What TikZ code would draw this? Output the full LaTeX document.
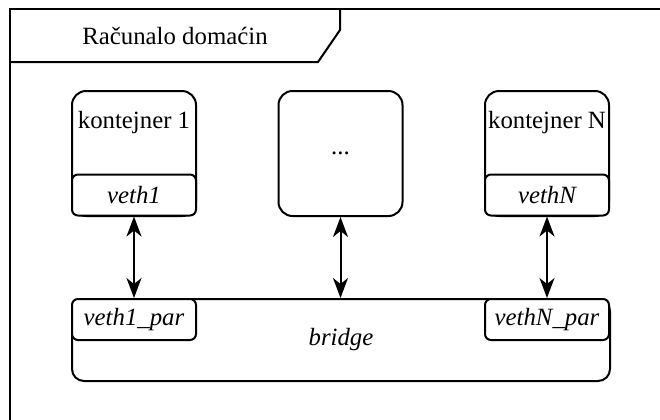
\documentclass[tikz,border=0pt]{standalone}
\usepackage{fontspec}
\setmainfont{Liberation Serif}
\usetikzlibrary{arrows.meta}

\tikzset{
	box/.style={draw, line width=1pt, rounded corners=7pt, fill=white, inner sep=0pt, minimum width=62pt, minimum height=62.5pt},
	port/.style={draw, line width=1pt, rounded corners=3pt, fill=white, inner sep=0pt, minimum width=62pt, minimum height=20.5pt, font=\itshape},
	bridgebox/.style={draw, line width=1pt, rounded corners=6pt, fill=white, inner sep=0pt, minimum width=269pt, minimum height=41pt, font=\itshape},
	link/.style={line width=1pt, {Stealth[length=10pt,width=7.5pt,inset=3pt]}-{Stealth[length=10pt,width=7.5pt,inset=3pt]}}
}

\begin{document}
\fontsize{12.4}{14}\selectfont
\begin{tikzpicture}[x=0.5pt, y=-0.5pt]
			%%%%% START %%%%%
			\useasboundingbox (0, 0) rectangle (660, 419);
			
			% host frame
			\draw[line width=1pt] (10, 425) -- (10, 8.5) -- (665, 8.5);
			\draw[line width=1pt] (10, 62) -- (318, 62) -- (340, 30) -- (340, 8.5);
			\node (host) at (175, 36) {Računalo domaćin};
			
			% containers
			\node[box] (k1) at (134, 153.5) {};
			\node (k1name) at (134, 123) {kontejner 1};
			\node[port] (v1) at (134, 195) {veth1};
			
			\node[box] (dots) at (340.5, 153.5) {...};
			
			\node[box] (kn) at (547, 153.5) {};
			\node (knname) at (547, 123) {kontejner N};
			\node[port] (vn) at (547, 195) {vethN};
			
			% bridge
			\node[bridgebox] (br) at (341, 340) {bridge};
			\node[port] (v1p) at (134, 319.5) {veth1\_par};
			\node[port] (vnp) at (547, 319.5) {vethN\_par};
			
			\draw[link] (v1) -- (v1p);
			\draw[link] (dots.south) -- (dots.south |- br.north);
			\draw[link] (vn) -- (vnp);
			
			%%%%% END %%%%%
\end{tikzpicture}
\end{document}
